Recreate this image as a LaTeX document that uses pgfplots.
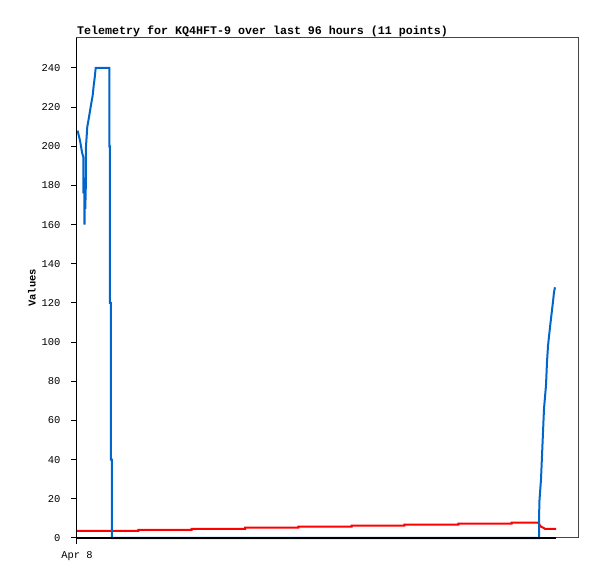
\documentclass[border=0pt]{standalone}
\usepackage{pgfplots}
\pgfplotsset{compat=1.18}
\usepackage{fontspec}
\setmainfont{Liberation Mono}

\definecolor{batt}{HTML}{0066CC}
\definecolor{framegray}{HTML}{444444}

\begin{document}
\begin{tikzpicture}
  \useasboundingbox (-77bp,-41bp) rectangle (520bp,538bp);
  \begin{axis}[
    scale only axis,
    width=501bp, height=500bp,
    xmin=0, xmax=501,
    ymin=0, ymax=255.3,
    xtick={0}, xticklabels={Apr 8},
    ytick={0,20,...,240},
    xtick pos=bottom, ytick pos=left,
    tick align=outside,
    major tick length=6bp,
    tick style={draw=black, line width=1bp},
    axis line style={draw=framegray, line width=1bp},
    /pgf/number format/assume math mode=true,
    ticklabel style={font=\fontsize{10.5}{12}\selectfont},
    yticklabel style={xshift=-7bp},
    xticklabel style={yshift=-4bp},
    title={Telemetry for KQ4HFT-9 over last 96 hours (11 points)},
    title style={at={(axis description cs:0,1)}, anchor=base west, yshift=-2bp,
      inner sep=0pt, font=\bfseries\fontsize{11.7}{13}\selectfont},
    ylabel={Values},
    ylabel style={at={(axis description cs:-0.09,0.5)}, anchor=center,
      font=\bfseries\fontsize{10.5}{12}\selectfont},
    clip=false,
  ]
  % temperature (red)
  \addplot[red, line width=2bp] coordinates {
    (0,3.6) (61.3,3.6) (61.3,4.1) (114.7,4.1) (114.7,4.7) (168,4.7)
    (168,5.3) (221.3,5.3) (221.3,5.8) (274.7,5.8) (274.7,6.3) (327.3,6.3)
    (327.3,6.8) (381.3,6.8) (381.3,7.3) (434.7,7.3) (434.7,7.8) (461,7.8)
    (462,7.3) (463,6.3) (464,5.8) (466,5.3) (468,4.7) (479,4.7)
  };
  % battery (blue)
  \addplot[batt, line width=2bp] coordinates {
    (0.7,208) (1.5,206) (3,203) (4,200) (5,197) (6.5,194) (6.5,176)
    (7.3,184) (7.5,160) (8,184) (8.3,168) (9,184) (9,200) (10.3,210)
    (11.7,214) (13,218) (14.3,222) (15.7,226) (16.7,231) (17.7,235)
    (18.7,240) (32.3,240) (32.3,200) (33,200) (33,120) (34,120) (34,40)
    (35,40) (35,0) (462,0) (462.3,18) (464,30) (465,42) (466,54) (467,66)
    (469,78) (470,90) (471,98) (472,103) (473,107.6) (474,112) (475,116.4)
    (476,120.7) (477,125.5) (478,128)
  };
  % zero line (black)
  \addplot[black, line width=2bp] coordinates {(0,0) (479,0)};
  \draw[black, line width=1bp] (rel axis cs:0,0) -- (rel axis cs:0,1);
  \end{axis}
\end{tikzpicture}
\end{document}
